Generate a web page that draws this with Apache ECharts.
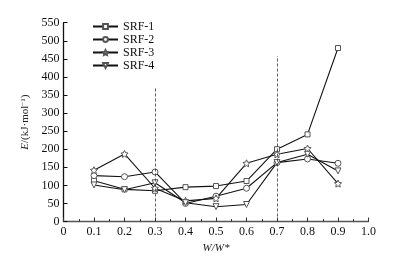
<!DOCTYPE html>
<html><head><meta charset="utf-8">
<script src="https://cdn.jsdelivr.net/npm/echarts@6/dist/echarts.min.js"></script>
<style>html,body{margin:0;padding:0;background:#fff}#c{width:395px;height:261px}</style>
</head><body><div id="c"></div>
<script>
const xValues = [0.1,0.2,0.3,0.4,0.5,0.6,0.7,0.8,0.9];
const srf1 = [113, 89, 85, 95, 98, 112, 200, 241, 480];
const srf2 = [127, 124, 137, 50, 70, 92, 163, 173, 161];
const srf3 = [142, 187, 92, 57, 64, 161, 186, 202, 105];
const srf4 = [101, 88, 107, 52, 41, 47, 163, 186, 140];
const seriesNames = ['SRF-1','SRF-2','SRF-3','SRF-4'];
const dashLines = [[0.3, 370], [0.7, 458]];

const starPath = 'path://M0,-10 L2.9,-4 9.5,-3.1 4.8,1.5 5.9,8.1 0,5 -5.9,8.1 -4.8,1.5 -9.5,-3.1 -2.9,-4 Z';
const symbols = [['rect',5,0],['circle',6,0],[starPath,7,0],['triangle',6,180]];
const allData = [srf1, srf2, srf3, srf4];
const font = 'Liberation Serif';

const series = allData.map((d, i) => ({
  name: seriesNames[i], type: 'line',
  data: d.map((v, j) => [xValues[j], v]),
  symbol: symbols[i][0], symbolSize: symbols[i][1], symbolRotate: symbols[i][2],
  showAllSymbol: true,
  lineStyle: { color: '#111', width: 1.1 },
  itemStyle: { color: '#fff', borderColor: '#555', borderWidth: 1 },
  emphasis: { disabled: true },
  z: 3
}));
series.push({
  type: 'line', data: [], silent: true,
  markLine: {
    symbol: 'none', silent: true, label: { show: false },
    lineStyle: { color: '#333', type: [3, 2], width: 0.8 },
    data: dashLines.map(p => [{ coord: [p[0], 0] }, { coord: [p[0], p[1]] }])
  }
});

const chart = echarts.init(document.getElementById('c'), null, { renderer: 'canvas' });
chart.setOption({
  animation: false,
  backgroundColor: '#fff',
  textStyle: { fontFamily: font },
  grid: { left: 63.5, right: 26.5, top: 22.7, bottom: 39.5 },
  legend: {
    orient: 'vertical', left: 87, top: 15, itemGap: 0, itemWidth: 25, itemHeight: 6,
    data: seriesNames,
    textStyle: { fontFamily: font, fontSize: 12, color: '#111', lineHeight: 13, padding: [0, 0, 0, 0] }
  },
  xAxis: {
    type: 'value', min: 0, max: 1.0, interval: 0.1,
    name: 'W/W*', nameLocation: 'middle', nameGap: 21,
    nameTextStyle: { fontFamily: font, fontStyle: 'italic', fontSize: 11, color: '#222' },
    axisLine: { onZero: false, lineStyle: { color: '#555', width: 1.3 } },
    axisTick: { inside: true, length: 4, lineStyle: { color: '#333' } },
    minorTick: { show: true, splitNumber: 2, length: 2.5, lineStyle: { color: '#333' } },
    splitLine: { show: false },
    axisLabel: { fontFamily: font, fontSize: 12, color: '#111', margin: 4,
      formatter: v => v === 0 ? '0' : v.toFixed(1) }
  },
  yAxis: {
    type: 'value', min: 0, max: 550, interval: 50,
    name: '{i|E}/(kJ·mol{s|−1})', nameLocation: 'middle', nameGap: 28,
    nameTextStyle: { fontFamily: font, fontSize: 11, color: '#222',
      rich: { i: { fontFamily: font, fontStyle: 'italic', fontSize: 11 },
              s: { fontFamily: font, fontSize: 7, verticalAlign: 'top', lineHeight: 8 } } },
    axisLine: { show: true, lineStyle: { color: '#111', width: 1.3 } },
    axisTick: { show: true, inside: true, length: 4, lineStyle: { color: '#111' } },
    splitLine: { show: false },
    axisLabel: { fontFamily: font, fontSize: 12, color: '#111', margin: 4 }
  },
  series: series
});
</script></body></html>
